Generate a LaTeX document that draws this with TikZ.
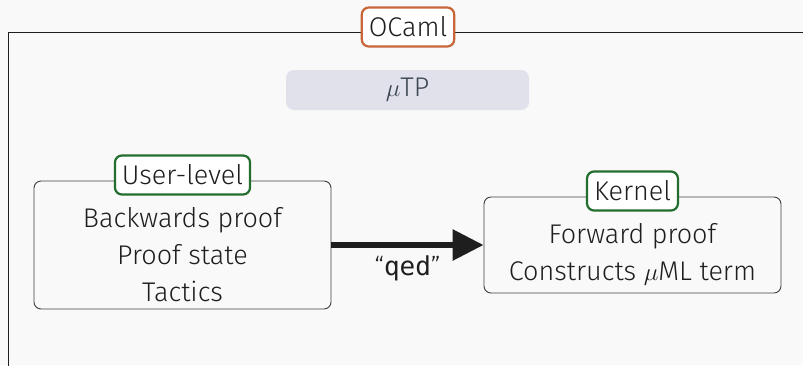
\documentclass[tikz,border=0pt]{standalone}
\usepackage{fontspec}
\setmainfont{Fira Sans Light}
\newfontfamily\monofont{DejaVu Sans Mono}
\usetikzlibrary{arrows.meta}
\definecolor{bg}{HTML}{F9F9F9}
\definecolor{ink}{HTML}{1E1E1E}
\definecolor{frameink}{HTML}{3A3F44}
\definecolor{ocamlorange}{HTML}{C8663A}
\definecolor{levelgreen}{HTML}{236E2E}
\definecolor{tpfill}{HTML}{E0E1EA}
\definecolor{tpink}{HTML}{3C4650}
\tikzset{
  txt/.style={font=\fontsize{27}{37}\selectfont, text=ink, align=center},
  layerbox/.style={draw=frameink, line width=0.9pt, rounded corners=7pt, fill=bg},
  tag/.style={txt, fill=white, rounded corners=7pt, line width=2.2pt, inner xsep=7pt, inner ysep=0pt, minimum height=39pt},
}
\begin{document}
\begin{tikzpicture}[x=1pt,y=-1pt]
  \fill[bg] (0,0) rectangle (803,365);
  \useasboundingbox (0,0) rectangle (803,365);
  % outer OCaml frame
  \coordinate (frameTL) at (8,32);
  \coordinate (frameR) at (812,32);
  \coordinate (frameB) at (8,372);
  \draw[ink, line width=1pt] (frameR) -- (frameTL) -- (frameB);
  \node[tag, draw=ocamlorange] (ocaml) at (408,27) {OCaml};
  % muTP banner
  \node[fill=tpfill, rounded corners=8pt, minimum width=243pt, minimum height=40pt,
        font=\fontsize{27}{30}\selectfont, text=tpink] (tp) at (407.5,90) {$\mu$TP};
  % user-level box
  \node[layerbox, minimum width=297pt, minimum height=128pt] (user) at (182.5,245) {};
  \node[txt] (usertext) at (182.5,255) {Backwards proof\\Proof state\\Tactics};
  \node[tag, draw=levelgreen] (userlbl) at (182.5,175) {User-level};
  % kernel box
  \node[layerbox, minimum width=297pt, minimum height=96pt] (kernel) at (632.5,245) {};
  \node[txt] (kerneltext) at (632.5,254) {Forward proof\\Constructs $\mu$ML term};
  \node[tag, draw=levelgreen] (kernellbl) at (632.5,191) {Kernel};
  % qed arrow
  \draw[ink, line width=6pt, -{Triangle[length=31pt,width=30pt]}] (user.east) -- (kernel.west)
    node[midway, below=4pt, font=\fontsize{26}{30}\selectfont, text=ink] (qed) {“{\monofont qed}”};
\end{tikzpicture}
\end{document}
